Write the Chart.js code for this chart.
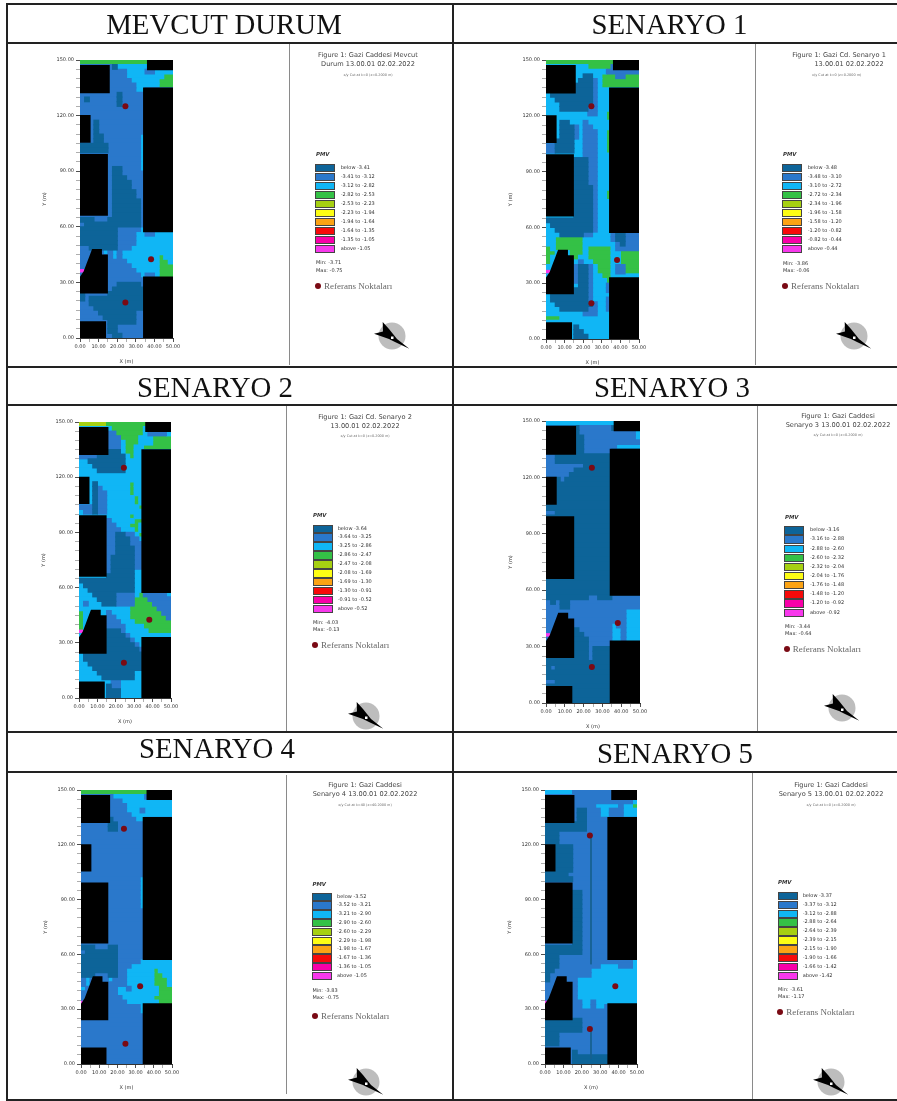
<!DOCTYPE html>
<html><head><meta charset="utf-8">
<script src="https://cdn.jsdelivr.net/npm/chart.js@4/dist/chart.umd.min.js"></script>
<style>
html,body{margin:0;padding:0;background:#fff}
#page{position:relative;width:897px;height:1101px;overflow:hidden;filter:blur(.5px);font-family:"DejaVu Sans",sans-serif;color:#333}
#page>*{position:absolute}
.ln{background:#222}
.dv{background:#8a8a8a;width:1px}
.ttl{font-family:"Liberation Serif",serif;font-size:28.8px;line-height:30px;color:#111;transform:translateX(-50%);white-space:nowrap}
.t1{font-size:6.6px;line-height:9px;white-space:nowrap;transform:translateX(-50%);color:#444}
.t2{font-size:3.4px;line-height:5px;white-space:nowrap;transform:translateX(-50%);color:#666}
.pmv{font-size:5.4px;font-weight:bold;font-style:italic;line-height:7px;color:#333}
.sw{width:18px;height:6.4px;border:.5px solid #444;box-sizing:content-box}
.lb{font-size:5px;line-height:7px;white-space:nowrap;color:#333}
.rf{font-family:"Liberation Serif",serif;font-size:9px;line-height:10px;white-space:nowrap;color:#666}
.dot{width:6px;height:6px;border-radius:50%;background:#7a0a14}
</style></head><body><div id="page"></div>
<script>
// ---------- data ----------
const panelTitles = ["MEVCUT DURUM","SENARYO 1","SENARYO 2","SENARYO 3","SENARYO 4","SENARYO 5"];
const figureLines = [
 ["Figure 1: Gazi Caddesi Mevcut","Durum 13.00.01 02.02.2022"],
 ["Figure 1: Gazi Cd. Senaryo 1","13.00.01 02.02.2022"],
 ["Figure 1: Gazi Cd. Senaryo 2","13.00.01 02.02.2022"],
 ["Figure 1: Gazi Caddesi","Senaryo 3 13.00.01 02.02.2022"],
 ["Figure 1: Gazi Caddesi","Senaryo 4 13.00.01 02.02.2022"],
 ["Figure 1: Gazi Caddesi","Senaryo 5 13.00.01 02.02.2022"]];
const cutLabels = ["x/y Cut at k=0 (z=0.2000 m)","x/y Cut at k=0 (z=0.2000 m)","x/y Cut at k=0 (z=0.2000 m)","x/y Cut at k=0 (z=0.2000 m)","x/y Cut at k=40 (z=40.2000 m)","x/y Cut at k=0 (z=0.2000 m)"];
const breaks0 = ["-3.41","-3.12","-2.82","-2.53","-2.23","-1.94","-1.64","-1.35","-1.05"];
const breaks1 = ["-3.48","-3.10","-2.72","-2.34","-1.96","-1.58","-1.20","-0.82","-0.44"];
const breaks2 = ["-3.64","-3.25","-2.86","-2.47","-2.08","-1.69","-1.30","-0.91","-0.52"];
const breaks3 = ["-3.16","-2.88","-2.60","-2.32","-2.04","-1.76","-1.48","-1.20","-0.92"];
const breaks4 = ["-3.52","-3.21","-2.90","-2.60","-2.29","-1.98","-1.67","-1.36","-1.05"];
const breaks5 = ["-3.37","-3.12","-2.88","-2.64","-2.39","-2.15","-1.90","-1.66","-1.42"];
const minValues = ["-3.71","-3.86","-4.03","-3.44","-3.83","-3.61"];
const maxValues = ["-0.75","-0.06","-0.13","-0.64","-0.75","-1.17"];
const pmvColors = ["#0d6499","#2a78cb","#10b6f5","#34c146","#a6d012","#fdfd14","#fca314","#f60a0a","#f800a8","#f838ec"];
const xTicks = [0,10,20,30,40,50];
const yTicks = [0,30,60,90,120,150];
const referenceName = "Referans Noktaları";
const refPoints = [[24.4,125.1],[38.2,42.5],[24.4,19.2]];
const refPoints4 = [[23.6,128.8],[32.5,42.5],[24.4,11.1]];
const buildings = [
 [[0,147.3],[16,147.3],[16,132],[0,132]],
 [[36,150],[50,150],[50,144.5],[36,144.5]],
 [[0,120.3],[5.7,120.3],[5.7,105.4],[0,105.4]],
 [[0,99.3],[15,99.3],[15,65.9],[0,65.9]],
 [[33.9,135.2],[50,135.2],[50,57],[33.9,57]],
 [[0,24],[15,24],[15,45],[11.8,45],[11.8,48],[6.5,48],[5,44],[3.5,40],[2,36],[0,33]],
 [[0,0],[14,0],[14,9],[0,9]],
 [[33.9,0],[50,0],[50,33.2],[33.9,33.2]]];
const thinLines5 = [[[25,125.6],[25,54.6]],[[25,20],[25,2.7]]];
// cell classes, rows top (y=150) to bottom (y=0), 2.5 m cells
const grid0 = ["33333333333333311111","11111110222222211111","11111111112222112222","11111111112222222233","11111111111222222333","11111111111122222333","11111111111122111111","11111111011111111111","10111111011111111111","11111111011111111111","11111111111111111111","11111111111111111111","11111111111111111111","11101111111111111111","11101111111111111111","11101111111111111111","11100111111112111111","11100111111112111111","00000011111112111111","00000011111112111111","11111111111112111111","11111111111112111111","11111111111112111111","11111110011112111111","11111110011111111111","11111110001111111111","11111110000111111111","11111110000111111111","11111110000011111111","11111110000011111111","11111110000001111111","11111110000001111111","11111110000001111111","11111110000001111111","00011100000001111111","10000000000001111111","00000000111112111111","00000000111122112222","00000000111122222222","00000000111122222222","11000000111222222222","11111212122222222222","11111112122222222322","11111111112222222332","11111111111222222333","91111111111122222333","11111111111112112333","11111111111111111111","11111111000001111111","11111110000000111111","01111100000000111111","01000000000000111111","11000000000000111111","11100000000000111111","11110000000011111111","11111000000011111111","11111100000011111111","11111100111111111111","11111100111111111111","11111110011111111111"];
const grid1 = ["33333333333333322222","22222222233333122222","22222222222221111111","22222222002233311333","22222220001233333333","22222200001233333333","22222200001222222222","20000000001222222222","22000000001222222222","22200000001222222222","22200000011222222222","22222222211223222222","22222222222223222222","22200222122222222222","22200012112222222222","22200012111223222222","22200012111223222222","22000022111223222222","11000022111223222222","11000022111223222222","22222222111222222222","22222200011222222222","22222200011222222222","22222200011222222222","22222200011222222222","22222200011222222222","22222200011222222222","22222200001222222222","22222200001223222222","22222200001223222222","22222200001222222222","22222200001222222222","22222200001222222222","22222200001222222222","00000000001222222222","20000000001222222222","22000000001222222222","22200000112222100111","22333333222222100111","22333333222222210111","32333333233333211111","33222333233333223333","32222332233333223333","32222221223333223333","22222210012333211333","92222210012333211333","22222210012233222222","22222210012223222222","22222220012221222222","22222200012221222222","20000000012222222222","20000000012221222222","22000000001221222222","22200000011221222222","22222222111222222222","33322222222222222222","22222222222222222222","22222202222222222222","22222200222222222222","22222200022222222222"];
const grid2 = ["44444433333333322222","22222223333333222222","22222211333333211112","22222211133332223333","22222211123332223333","22222211123322333333","22222200023322222222","11110000002322222222","22000000002222222222","22200000002222222222","22220000002222222222","22222222222222222222","22222222222222222222","22202222222322222222","22201222222322222222","22201122222322222222","22201122222232222222","22201122222232222222","11101122222223222222","21101122222222222222","22222222222322222222","22222212222233222222","22222211222332222222","22222211122232222222","22222211001123222222","22222211000112222222","22222211000111222222","22222211000011222222","22222211000011222222","22222210000011222222","22222210000011222222","22222210000011222222","22222210000022222222","22222200000022222222","00000000000022222222","20000000000022222222","22000000000022222222","22200000111123111112","22220000111133311111","21222000111133331111","22222222222333333111","32222212222333333311","32222211222333333331","32222211122233333333","32222211112222333333","92222200012222233333","22222200001222222222","22222200000122222222","22222200000012222222","22222200000001222222","20000000000000222222","20000000000000222222","22000000000000222222","22200000000000222222","22220000000022222222","22222000000022222222","22222221122222222222","22222201122222222222","22222200022222222222","22222200022222222222"];
const grid3 = ["22222222222222200000","00000001111111000000","00000001111111111112","00000000111111111112","00000000111111111111","00000000111111122222","00000000111111000000","11000000000000000000","11000000000000000000","11111111000000000000","11111100000000000000","11111000000000000000","00010000000000000000","00000000000000000000","00000000000000000000","00000000000000000000","00000000000000000000","00000000000000000000","00000000000000000000","11000000000000000000","00000000000000000000","00000000000000000000","00000000000000000000","00000000000000000000","00000000000000000000","00000000000000000000","00000000000000000000","00000000000000000000","00000000000000000000","00000000000000000000","00000000000000000000","00000000000000000000","00000000000000000000","00000000000000000000","00000000000000000000","00000000000000000000","00000000000000000000","00000000011000111111","10100111111111111111","11100111111111111111","11111111111111111222","11111111111111111222","11111111111111111222","11111111111111211222","11111101111111221222","91111100111111221222","11111100011111221222","00000000011111000000","00000000010000000000","00000000010000000000","00000000010000000000","00000000000000000000","01000000000000000000","00000000000000000000","00000000000000000000","11000000000000000000","00000000000000000000","00000000000000000000","00000000000000000000","00000000000000000000"];
const grid4 = ["33333333333333311111","11111112222222111111","11111111122222222222","11111111112222222222","11111111112221222222","11111111111222222222","11111101111122111111","11111100111111111111","11111100111111111111","11111111111111111111","11111111111111111111","11111111111111111111","11111111111111111111","11111111111111111111","11111111111111111111","11111111111111111111","11111111111111111111","11111111111111111111","11111111111111111111","11111111111112111111","11111111111112111111","11111111111112111111","11111111111112111111","11111111111112111111","11111111111112111111","11111111111112111111","11111111111111111111","11111111111111111111","11111111111111111111","11111111111111111111","11111111111111111111","11111111111111111111","11111111111111111111","11111111111111111111","00011100111111111111","10000000111111111111","00000000111111111111","00000000111112222222","00000000111222222222","00000000112222223222","00011100112222223322","12111121112222223332","12111111112222223332","21111111221222222333","11111111222222222333","11111111122222223333","91111111112222222333","11111111111112111111","11111111111112111111","11111111111111111111","11111111111111111111","11111111111111111111","11111111111111111111","11111111111111111111","11111111111111111111","11111111111111111111","11111111111111111111","11111111111111111111","11111111111111111111","11111111111111111111"];
const grid5 = ["22222211111111111111","11111111111111111111","11111111111111111112","11111111111222221223","11111110011122111222","11111110011122111222","11111110011111111111","00000000011111111111","00000000011111111111","00011111111111111111","00011111111111111111","00011111111111111111","00000011111111111111","00000011111111111111","00000011111111111111","00000011111111111111","00000011111111111111","00000011111111111111","00000111111111111111","00000011111111111111","11111111111111111111","11111111111111111111","11111100111111111111","11111100111111111111","11111100111111111111","11111100111111111111","11111100111111111111","11111100111111111111","11111100111111111111","11111100111111111111","11111100111111111111","11111100111111111111","11111100111111111111","11111100111111111111","00000000111111111111","00000000111111111111","00011111111111111111","00011111111111111112","00011111111122221112","00111111112222222222","01111111112222222222","01111112222222222222","11111112222222222222","11111112222222222222","11111112222222222222","11111112222222222222","91111111221222222222","11111111221221211111","11111111111111111111","11111111111111111111","00000000111111111111","00000000111111111111","00000000111111111111","00011111111111111111","00011111111111111111","00011111111111111111","11111111111111111111","11111101111111111111","11111100000000111111","11111100000000111111"];

// ---------- layout ----------
const layouts = [
 {pl:80,pr:173,pt:60,pb:338,tx:224,ty:9,dx:288.7,d0:44,d1:365,fx:[368,368],fy:[55,64],cy:75,cx:368,pmx:316,pmy:154,sx:315.3,s0:167,ds:9.03,lx:340.7,miny:262.7,maxy:270,rx:317.7,ry:286,rt:324,cpx:392,cpy:335.7},
 {pl:546,pr:639,pt:60,pb:339,tx:669.5,ty:9,dx:755.3,d0:44,d1:365,fx:[839,849],fy:[55,64],cy:75,cx:836.7,pmx:783,pmy:154,sx:782.3,s0:167,ds:9.03,lx:807.7,miny:263,maxy:270,rx:785,ry:286,rt:791,cpx:854.3,cpy:335.7},
 {pl:79,pr:171,pt:422,pb:698,tx:215,ty:372,dx:286,d0:406,d1:731,fx:[365,365],fy:[417.3,426],cy:436.7,cx:365,pmx:313,pmy:515,sx:312.7,s0:528,ds:8.93,lx:337.7,miny:622,maxy:629.3,rx:315,ry:645.3,rt:321,cpx:366,cpy:715.7},
 {pl:546,pr:640,pt:421,pb:703,tx:672,ty:371.5,dx:757,d0:406,d1:731,fx:[838,838],fy:[416,425.3],cy:435.7,cx:838,pmx:785,pmy:517,sx:784.3,s0:529.7,ds:9.15,lx:810,miny:626.7,maxy:633.7,rx:786.7,ry:649.3,rt:792.7,cpx:841.7,cpy:708.3},
 {pl:81,pr:172,pt:790,pb:1064,tx:217,ty:733,dx:286,d0:775,d1:1094,fx:[365,365],fy:[785.3,794.7],cy:805.3,cx:365,pmx:312.5,pmy:884,sx:312.3,s0:896,ds:8.81,lx:337,miny:990,maxy:997.3,rx:315,ry:1016,rt:321,cpx:366,cpy:1081.7},
 {pl:545,pr:637,pt:790,pb:1064,tx:675,ty:738,dx:751.7,d0:773,d1:1099,fx:[831,831],fy:[785.3,794.3],cy:805,cx:831,pmx:778,pmy:882.7,sx:778,s0:895.3,ds:8.89,lx:802.7,miny:989.7,maxy:996.7,rx:780.3,ry:1012.3,rt:786.3,cpx:831,cpy:1081.7}];
const grids = [grid0,grid1,grid2,grid3,grid4,grid5];
const breakSets = [breaks0,breaks1,breaks2,breaks3,breaks4,breaks5];
const page = document.getElementById('page');
function el(cls,css,text){const d=document.createElement('div');d.className=cls;Object.assign(d.style,css);if(text!=null)d.textContent=text;page.appendChild(d);return d;}
function px(v){return v+'px';}

// frame lines
[[6,3,891,2],[6,42,891,2],[6,365.5,891,2],[6,404,891,2],[6,731,891,2],[6,770.5,891,2],[6,1099,891,2],[5.5,3,2,1098],[452,3,2,1098]].forEach(r=>{
  el('ln',{left:px(r[0]),top:px(r[1]),width:px(r[2]),height:px(r[3])});
});

function legendLabels(b){
  const out=['below '+b[0]];
  for(let i=0;i<b.length-1;i++) out.push(b[i]+' to '+b[i+1]);
  out.push('above '+b[b.length-1]);
  return out;
}
function runsFor(grid){
  const byClass={};
  grid.forEach((row,r)=>{
    const y=150-1.25-2.5*r;
    let c=0;
    while(c<row.length){
      let e=c;
      while(e<row.length&&row[e]===row[c])e++;
      (byClass[row[c]]=byClass[row[c]]||[]).push({y:y,x:[c*2.5,e*2.5]});
      c=e;
    }
  });
  return byClass;
}
Chart.defaults.font.family='"DejaVu Sans",sans-serif';
Chart.defaults.font.size=5;
Chart.defaults.color='#333';
Chart.defaults.animation=false;

function buildPanel(i){
  const L=layouts[i];
  el('ttl',{left:px(L.tx),top:px(L.ty)},panelTitles[i]);
  el('dv',{left:px(L.dx),top:px(L.d0),height:px(L.d1-L.d0)});
  figureLines[i].forEach((t,k)=>el('t1',{left:px(L.fx[k]),top:px(L.fy[k]-4.5)},t));
  el('t2',{left:px(L.cx),top:px(L.cy-2.5)},cutLabels[i]);
  el('pmv',{left:px(L.pmx),top:px(L.pmy-3.5)},'PMV');
  legendLabels(breakSets[i]).forEach((t,k)=>{
    const y=L.s0+k*L.ds;
    el('sw',{left:px(L.sx),top:px(y-3.5),background:pmvColors[k]});
    el('lb',{left:px(L.lx),top:px(y-3.5)},t);
  });
  el('lb',{left:px(L.pmx),top:px(L.miny-3.5)},'Min: '+minValues[i]);
  el('lb',{left:px(L.pmx),top:px(L.maxy-3.5)},'Max: '+maxValues[i]);
  el('dot',{left:px(L.rx-3),top:px(L.ry-3)});
  el('rf',{left:px(L.rt),top:px(L.ry-5.5)},referenceName);
  // compass
  const ns='http://www.w3.org/2000/svg';
  const s=document.createElementNS(ns,'svg');
  s.setAttribute('width','44');s.setAttribute('height','36');
  s.setAttribute('viewBox','-22 -18 44 36');
  s.style.left=px(L.cpx-22);s.style.top=px(L.cpy-18);
  s.innerHTML='<circle r="13.5" fill="#bdbdbd"/><polygon fill="#000" points="-9.3,-14 -3,-7 1,-2 5,3 17.3,12.7 3,6 -3,3 -18,-2.3 -9,-4.5"/><rect x="-1" y="0.5" width="2.5" height="2.5" fill="#fff"/>';
  page.appendChild(s);

  // chart
  const AXW=38,AXH=27,PT=10,PR=12;
  const W=L.pr-L.pl+AXW+PR, H=L.pb-L.pt+PT+AXH;
  const cv=document.createElement('canvas');
  cv.width=W;cv.height=H;cv.style.left=px(L.pl-AXW);cv.style.top=px(L.pt-PT);cv.style.width=px(W);cv.style.height=px(H);
  page.appendChild(cv);
  const runs=runsFor(grids[i]);
  const rowPx=(L.pb-L.pt)/60;
  const datasets=[];
  Object.keys(runs).forEach(k=>{
    datasets.push({type:'bar',label:'class '+k,indexAxis:'y',data:runs[k],backgroundColor:pmvColors[+k],borderWidth:0,order:5,grouped:false,barThickness:rowPx,inflateAmount:0.6});
  });
  buildings.forEach((poly,n)=>{
    datasets.push({type:'scatter',label:'building '+n,indexAxis:'x',showLine:true,fill:'shape',backgroundColor:'#000',borderColor:'#000',borderWidth:0,pointRadius:0,
      data:poly.concat([poly[0]]).map(p=>({x:p[0],y:p[1]})),order:3});
  });
  if(i===5) thinLines5.forEach((l,n)=>{
    datasets.push({type:'scatter',label:'line '+n,indexAxis:'x',showLine:true,fill:false,borderColor:'#17608f',borderWidth:1,pointRadius:0,
      data:l.map(p=>({x:p[0],y:p[1]})),order:2});
  });
  datasets.push({type:'scatter',label:referenceName,indexAxis:'x',pointStyle:'circle',pointRadius:3,backgroundColor:'#7a0a14',borderWidth:0,
    data:(i===4?refPoints4:refPoints).map(p=>({x:p[0],y:p[1]})),order:1});
  const tickCol=(c,list)=>list.includes(c.tick&&c.tick.value)?'#222':'#999';
  new Chart(cv,{type:'scatter',data:{datasets},options:{
    responsive:false,animation:false,events:[],
    layout:{padding:{top:PT,right:PR,left:0,bottom:0}},
    plugins:{legend:{display:false},tooltip:{enabled:false}},
    scales:{
      x:{type:'linear',min:0,max:50,offset:false,
        grid:{offset:false,drawOnChartArea:false,drawTicks:true,tickLength:4,tickWidth:.8,tickColor:c=>tickCol(c,xTicks)},
        border:{display:true,color:'#333',width:1},
        ticks:{stepSize:5,autoSkip:false,maxRotation:0,minRotation:0,padding:2,font:{size:5},color:'#333',
          callback:v=>xTicks.includes(v)?v.toFixed(2):''},
        title:{display:true,text:'X (m)',font:{size:5},color:'#333',padding:0},
        afterFit:s=>{s.height=AXH;}},
      y:{type:'linear',min:0,max:150,offset:false,
        grid:{offset:false,drawOnChartArea:false,drawTicks:true,tickLength:4,tickWidth:.8,tickColor:c=>tickCol(c,yTicks)},
        border:{display:true,color:'#333',width:1},
        ticks:{stepSize:5,autoSkip:false,padding:2,font:{size:5},color:'#333',
          callback:v=>yTicks.includes(v)?v.toFixed(2):''},
        title:{display:true,text:'Y (m)',font:{size:5},color:'#333',padding:0},
        afterFit:s=>{s.width=AXW;}}
    }
  }});
}
for(let i=0;i<6;i++) buildPanel(i);
</script></body></html>
